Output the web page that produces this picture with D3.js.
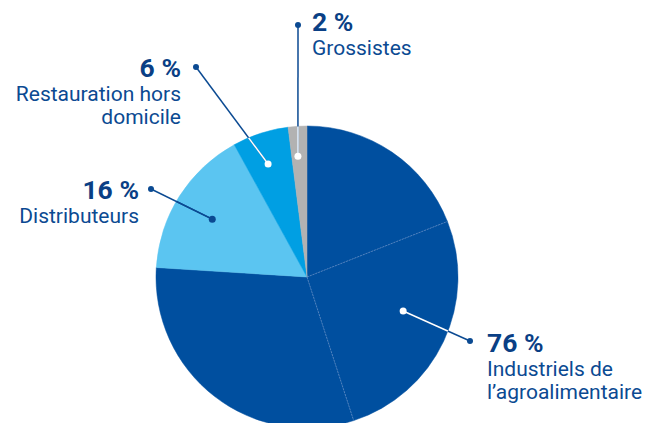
<!DOCTYPE html>
<html>
  <head>
    <meta charset="utf-8"/>
    <style>
    body {
      font-family: Roboto, sans-serif;
      margin: 0;
      background: #fff;
    }
    </style>
  </head>
  <body>
    <script src="https://d3js.org/d3.v7.min.js"></script>
    <script>
    var width = 652, height = 423;

    // shares, clockwise from 12 o'clock
    var categories = ["Industriels de l’agroalimentaire", "Distributeurs", "Restauration hors domicile", "Grossistes"];
    var values = [76, 16, 6, 2];
    var colors = ["#004f9f", "#5bc5f1", "#009fe3", "#b2b2b2"];
    // the big slice is drawn in three parts separated by faint lines
    var bigParts = [19, 26, 31];

    // label lines: angle (deg) and radius of the inner dot, outer dot, text
    var labels = [
      {pct: "76 %", lines: ["Industriels de", "l’agroalimentaire"], inA: 109.5, inR: 102, out: [470, 341], tx: 487, ty: 352, anchor: "start", inner: "#fff"},
      {pct: "16 %", lines: ["Distributeurs"], inA: 301.4, inR: 111, out: [151, 189], tx: 139, ty: 199, anchor: "end", inner: "#0b4a92"},
      {pct: "6 %", lines: ["Restauration hors", "domicile"], inA: 341, inR: 119.5, out: [196, 67], tx: 181, ty: 77, anchor: "end", inner: "#fff"},
      {pct: "2 %", lines: ["Grossistes"], inA: 355.7, inR: 121, out: [298, 25], tx: 312, ty: 31, anchor: "start", inner: "#fff"}
    ];

    var cx = 307, cy = 277, radius = 151;
    var textColor = "#0b4a92";

    var svg = d3.select("body").append("svg")
        .attr("width", width)
        .attr("height", height);

    svg.append("clipPath").attr("id", "pieclip")
      .append("circle").attr("cx", cx).attr("cy", cy).attr("r", radius);

    var g = svg.append("g").attr("transform", "translate(" + cx + "," + cy + ")");

    var pie = d3.pie().sort(null).value(function(d){ return d; });
    var arc = d3.arc().innerRadius(0).outerRadius(radius);

    var slices = pie(values);

    // split the first slice into its parts
    var parts = [];
    var a0 = slices[0].startAngle, total = d3.sum(bigParts);
    bigParts.forEach(function(p){
      var a1 = a0 + (slices[0].endAngle - slices[0].startAngle) * p / total;
      parts.push({startAngle: a0, endAngle: a1, color: colors[0]});
      a0 = a1;
    });
    slices.slice(1).forEach(function(s, i){
      parts.push({startAngle: s.startAngle, endAngle: s.endAngle, color: colors[i + 1]});
    });

    g.selectAll(".slice")
        .data(parts)
      .enter().append("path")
        .attr("class", "slice")
        .attr("d", arc)
        .attr("fill", function(d){ return d.color; })
        .attr("stroke", function(d){ return d.color; })
        .attr("stroke-width", 0.5);

    // faint separators inside the big slice
    g.selectAll(".sep")
        .data(parts.slice(1, 3))
      .enter().append("line")
        .attr("class", "sep")
        .attr("x1", 0).attr("y1", 0)
        .attr("x2", function(d){ return radius * Math.sin(d.startAngle); })
        .attr("y2", function(d){ return -radius * Math.cos(d.startAngle); })
        .attr("stroke", "#5f8cc4")
        .attr("stroke-width", 0.8)
        .attr("stroke-dasharray", "2,1");

    labels.forEach(function(l){
      var a = l.inA * Math.PI / 180;
      l.ix = cx + l.inR * Math.sin(a);
      l.iy = cy - l.inR * Math.cos(a);
    });

    // leader lines, dark outside the pie, lighter inside
    svg.selectAll(".lead")
        .data(labels)
      .enter().append("line")
        .attr("class", "lead")
        .attr("x1", function(d){ return d.ix; }).attr("y1", function(d){ return d.iy; })
        .attr("x2", function(d){ return d.out[0]; }).attr("y2", function(d){ return d.out[1]; })
        .attr("stroke", textColor)
        .attr("stroke-width", 1.5);

    svg.append("g").attr("clip-path", "url(#pieclip)")
      .selectAll(".leadIn")
        .data(labels)
      .enter().append("line")
        .attr("x1", function(d){ return d.ix; }).attr("y1", function(d){ return d.iy; })
        .attr("x2", function(d){ return d.out[0]; }).attr("y2", function(d){ return d.out[1]; })
        .attr("stroke", function(d){ return d.inner; })
        .attr("stroke-width", 1.5);

    svg.selectAll(".dotIn")
        .data(labels)
      .enter().append("circle")
        .attr("cx", function(d){ return d.ix; }).attr("cy", function(d){ return d.iy; })
        .attr("r", 3.5)
        .attr("fill", function(d){ return d.inner; });

    svg.selectAll(".dotOut")
        .data(labels)
      .enter().append("circle")
        .attr("cx", function(d){ return d.out[0]; }).attr("cy", function(d){ return d.out[1]; })
        .attr("r", 3)
        .attr("fill", textColor);

    var txt = svg.selectAll(".label")
        .data(labels)
      .enter().append("text")
        .attr("class", "label")
        .attr("x", function(d){ return d.tx; })
        .attr("y", function(d){ return d.ty; })
        .attr("text-anchor", function(d){ return d.anchor; })
        .attr("fill", textColor);

    txt.append("tspan")
        .attr("x", function(d){ return d.tx; })
        .attr("fill", "#0a3f85")
        .style("font-weight", "bold")
        .style("font-size", "26.5px")
        .text(function(d){ return d.pct; });

    txt.each(function(d){
      var t = d3.select(this);
      d.lines.forEach(function(line){
        t.append("tspan")
            .attr("x", d.tx)
            .attr("dy", 23.5)
            .style("font-size", "21px")
            .text(line);
      });
    });
    </script>
  </body>
</html>
